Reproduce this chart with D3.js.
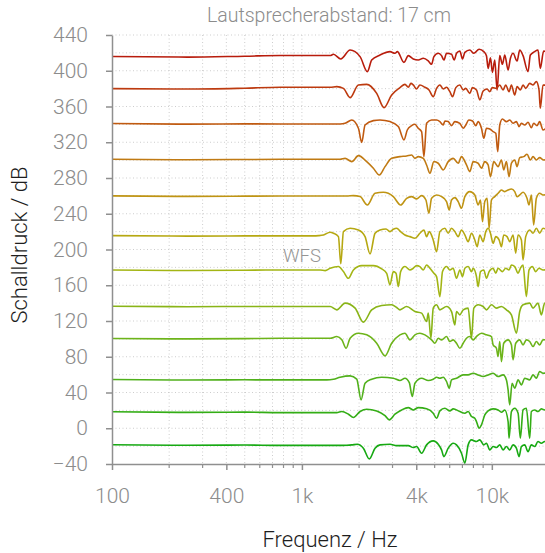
<!DOCTYPE html>
<html><head><meta charset="utf-8">
<script src="https://cdn.jsdelivr.net/npm/d3@7"></script>
<style>
body{margin:0;background:#fff;}
svg text{font-family:Roboto,"Open Sans",sans-serif;}
</style></head><body>
<svg id="c" width="545" height="553"></svg>
<script>
const title = "Lautsprecherabstand: 17 cm";
const xTitle = "Frequenz / Hz";
const yTitle = "Schalldruck / dB";
const annotation = "WFS";
const xTickValues = [100, 400, 1000, 4000, 10000];
const xTickLabels = ["100", "400", "1k", "4k", "10k"];
const xMinorTicks = [200, 300, 500, 600, 700, 800, 900, 2000, 3000, 5000, 6000, 7000, 8000, 9000, 20000];
const yTickValues = [-40, 0, 40, 80, 120, 160, 200, 240, 280, 320, 360, 400, 440];
const yGridValues = [-20, 0, 20, 40, 60, 80, 100, 120, 140, 160, 180, 200, 220, 240, 260, 280, 300, 320, 340, 360, 380, 400, 420, 440];
const colors = ["#b81c0c", "#bd3a0f", "#c05a10", "#c07a13", "#bf9413", "#b6a812", "#a3b514", "#89b417", "#6db41a", "#50b01b", "#33ad15", "#16a912"];

const s1 = [[100,416],[250,415.3],[500,416.3],[769,417],[1408,417],[1466,418.4],[1602,413.2],[1793,423.2],[2024,415.8],[2211,399],[2330,412],[2578,417.6],[2909,421.4],[3090,419.5],[3180,421.4],[3447,409.4],[3632,416.9],[3858,413.2],[4099,412],[4354,414],[4627,411],[4816,407.2],[4954,415.8],[5221,419.5],[5436,416.9],[5591,412],[5775,419.5],[6135,418.4],[6336,412],[6517,419.5],[6785,422.1],[7008,413.2],[7210,420.6],[7658,423.2],[8038,419.5],[8573,424],[9072,421.4],[9369,416.9],[9560,402.7],[9835,414.6],[10070,398.2],[10363,412],[10660,378.5],[11009,416.9],[11370,407.2],[11700,417.6],[12180,400.9],[12530,413.9],[12936,419.5],[13580,410.9],[14023,423.2],[14600,416.9],[15510,399],[15950,417.6],[16810,421.4],[17500,423.2],[18000,402.7],[18750,422.1],[20000,418]];
const s2 = [[100,380],[250,379.5],[500,380.5],[769,381.5],[1408,381.5],[1526,382.2],[1654,380.3],[1793,369.9],[1984,384.1],[2194,384.8],[2476,374.7],[2706,358.7],[2968,372.9],[3283,381.1],[3488,384.8],[3632,381.5],[3750,385.9],[3858,384.1],[4017,379.6],[4182,384.1],[4444,381.5],[4670,378.5],[4914,371],[5117,380.3],[5327,384.1],[5546,379.6],[5775,381.5],[6012,376.6],[6210,371],[6462,381.1],[6785,384.1],[7065,378.5],[7290,380.3],[7658,374.7],[7905,381.1],[8301,378.5],[8643,367.3],[8999,377.4],[9440,379.6],[9754,376.6],[10070,381.1],[10574,380.3],[11009,384.1],[11462,378.5],[11830,384.1],[12320,376.6],[12680,384.1],[13200,372.9],[13580,382.2],[14130,378.5],[14600,384.1],[15080,380.3],[15826,385.9],[16478,384.1],[17156,387.8],[17720,378.5],[18000,358],[18600,384.1],[20000,383]];
const s3 = [[100,341],[250,340.3],[500,340.6],[769,340.4],[1589,340.4],[1688,341.2],[1830,344.9],[1984,335.6],[2065,319.9],[2150,339.3],[2378,344.2],[2578,344.9],[2909,343.1],[3218,337.5],[3447,322.6],[3588,333.7],[3780,338.6],[3937,340.1],[4099,335.6],[4268,331.9],[4390,303.9],[4534,341.2],[4816,344.9],[5117,344.9],[5327,343.1],[5546,339.3],[5660,343.8],[5893,343.1],[6135,338.6],[6388,343.1],[6785,341.2],[7065,335.6],[7296,339.3],[7565,344.9],[7910,343.8],[8235,338.6],[8470,343.1],[8820,335.6],[9072,324.4],[9369,335.6],[9754,334.9],[10156,331.9],[10490,330],[10745,309.5],[11009,339.3],[11370,346],[11934,343.1],[12425,344.9],[12936,341.2],[13469,343.1],[13910,337.5],[14310,341.2],[14900,339.3],[15510,342.3],[16150,336.3],[16610,341.2],[17300,338.6],[17862,343.1],[18597,333.7],[20000,340]];
const s4 = [[100,301],[250,300.4],[500,300.7],[769,300.9],[1589,300.9],[1688,302],[1830,298.3],[1984,305],[2194,298.3],[2378,290.9],[2557,283.4],[2739,292.7],[2968,302],[3283,303.9],[3559,304.7],[3780,305.8],[3937,302],[4099,303.9],[4354,302],[4534,294.6],[4720,285.3],[4954,298.3],[5221,296.5],[5546,289],[5893,298.3],[6260,302],[6650,296.5],[6924,303.9],[7355,294.6],[7658,287.1],[7973,298.3],[8470,296.5],[8820,290.9],[9182,298.3],[9560,294.6],[9835,281.5],[10240,298.3],[10790,292.7],[11234,300.2],[11550,289],[11934,298.3],[12320,281.5],[12680,296.5],[13200,300.2],[13580,292.7],[14023,302.8],[14720,303.9],[15320,306.5],[15950,300.2],[16478,303.9],[17156,300.2],[17862,302.8],[18750,300.2],[20000,301]];
const s5 = [[100,260],[250,259.4],[500,259.7],[769,259.9],[1722,259.9],[1867,260.3],[2024,259.2],[2211,249.8],[2427,262.9],[2684,264],[3029,259.2],[3310,249.8],[3559,257.3],[3780,259.2],[4017,256.6],[4268,260.3],[4497,255.4],[4663,240.5],[4816,257.3],[5117,261],[5436,259.2],[5775,253.6],[5965,244.3],[6135,255.4],[6388,258],[6650,253.6],[6924,246.1],[7210,259.2],[7658,264.8],[8136,261],[8470,249.8],[8715,255.4],[8925,231.2],[9182,253.6],[9445,257.3],[9676,223.7],[9954,255.4],[10363,259.2],[10790,262.9],[11234,266.6],[11700,264.8],[12180,266.6],[12680,267.7],[13200,264.8],[13580,259.2],[14023,261],[14600,264],[15320,257.3],[15700,249.8],[16150,261],[16610,227.5],[17156,257.3],[17862,262.9],[18597,261],[20000,262]];
const s6 = [[100,215.5],[250,215],[500,215.2],[769,215.2],[1151,215.2],[1222,215.5],[1299,216.3],[1408,219.3],[1466,218.2],[1557,214.4],[1602,184],[1654,220],[1793,223.7],[1984,221.9],[2150,214.4],[2284,195],[2427,218.2],[2578,221.9],[2772,223],[2909,220],[3029,222.6],[3154,223.7],[3310,220],[3488,216.3],[3706,214.4],[3937,212.6],[4182,218.2],[4390,221.9],[4534,214.4],[4682,220],[4914,210.7],[5117,197.6],[5327,220],[5660,223.7],[5893,218.2],[6135,223.7],[6388,220],[6650,214.4],[6924,221.9],[7210,216.3],[7505,208.8],[7815,218.2],[8136,210.7],[8370,203.2],[8643,216.3],[8999,208.8],[9294,220],[9560,223.7],[9835,218.2],[10156,207],[10490,214.4],[10920,210.7],[11234,203.2],[11550,216.3],[12030,214.4],[12425,208.8],[12936,216.3],[13360,196],[13750,216.3],[14310,210.7],[14600,188.3],[15080,214.4],[15826,221.9],[16478,218.2],[17156,223.7],[17862,218.2],[18597,223.7],[20000,221]];
const s7 = [[100,177],[250,176.5],[500,176.8],[769,177.1],[1247,177.1],[1326,176.4],[1408,179],[1557,180.9],[1654,175.3],[1757,167.8],[1867,177.1],[2065,182],[2378,182],[2630,178.3],[2794,173.4],[2909,160.4],[3029,175.3],[3130,173.4],[3218,158.5],[3310,175.3],[3488,180.9],[3706,177.1],[3858,179],[4017,182],[4182,180.9],[4354,177.1],[4534,182.7],[4720,179],[4954,173.4],[5117,169.7],[5327,147.3],[5500,175.3],[5775,180.9],[6012,177.1],[6260,179],[6517,167.8],[6785,177.1],[7008,169.7],[7210,179],[7505,180.9],[7815,175.3],[7973,179],[8301,169.7],[8470,158.5],[8715,175.3],[9072,177.1],[9369,167.8],[9676,175.3],[10156,179],[10490,173.4],[10790,179],[11370,175.3],[11840,179],[12320,177.1],[12680,182.7],[13200,180.9],[13750,173.4],[14130,179],[14600,182.7],[15201,147.3],[15700,177.1],[16350,180.9],[17020,175.3],[17720,179],[18597,177.1],[20000,178]];
const s8 = [[100,136.5],[250,136],[500,136.3],[769,136.2],[1408,136.2],[1526,132.5],[1688,140],[1906,134.4],[2107,118.7],[2330,132.5],[2630,137.3],[2968,138.1],[3154,135.1],[3283,132.5],[3559,136.2],[3937,130.6],[4268,128.8],[4534,119.4],[4627,128.8],[4778,100.8],[4914,134.4],[5117,138.1],[5327,132.5],[5775,136.2],[6135,130.6],[6388,115.7],[6517,130.6],[6785,126.9],[7065,132.5],[7505,134.4],[7815,100.8],[8038,134.4],[8470,138.1],[8999,136.2],[9369,132.5],[9954,138.1],[10574,134.4],[11234,136.2],[11934,132.5],[12680,126.9],[13469,106.4],[14023,130.6],[14600,138.1],[15826,140],[16478,134.4],[17500,140],[18230,126.9],[18980,140],[20000,139]];
const s9 = [[100,100.5],[250,100],[500,100.3],[769,100.7],[1408,100.7],[1526,102.6],[1623,98.9],[1709,89.5],[1793,100.7],[1984,106.3],[2194,104.5],[2476,95.1],[2739,81],[2968,95.1],[3283,104.5],[3488,106.3],[3706,98.9],[3937,104.5],[4182,106.3],[4444,104.5],[4816,98.9],[5015,95.1],[5221,100.7],[5436,98.9],[5775,102.6],[6012,97],[6260,98.9],[6517,95.1],[6785,89.5],[7065,95.1],[7355,100.7],[7658,102.6],[7973,98.9],[8301,102.6],[8820,106.3],[9369,104.5],[9954,102.6],[10156,93.3],[10574,89.5],[10790,80.2],[11009,97],[11234,74.6],[11550,95.1],[12180,98.9],[12680,93.3],[12936,76.5],[13360,95.1],[14023,98.9],[14600,93.3],[15201,98.9],[15826,97],[16478,91.4],[17156,97],[17862,93.3],[18597,98.9],[20000,99]];
const s10 = [[100,54.5],[250,54],[500,54.2],[769,54.1],[1352,54.1],[1466,54.9],[1589,57.1],[1793,58.6],[1944,54.9],[2049,31.8],[2150,50.4],[2330,54.9],[2630,57.1],[3029,56],[3283,53.4],[3488,56],[3677,51.1],[3810,35.5],[3937,50.4],[4268,56],[4627,53.4],[4914,54.9],[5117,57.1],[5327,56],[5546,57.1],[5775,52.3],[5965,44.8],[6135,54.1],[6517,56],[7065,59.7],[7505,59.7],[7973,61.6],[8470,59.7],[8999,57.9],[9560,59.7],[10156,61.6],[10790,57.9],[11462,59.7],[11934,54.1],[12180,42.9],[12425,26.2],[12780,50.4],[13200,44.8],[13750,54.1],[14310,48.5],[14900,56],[15826,54.1],[16478,59.7],[17156,56],[17862,63.5],[18597,61.6],[20000,62]];
const s11 = [[100,18.5],[250,17.8],[500,18],[769,17.5],[1526,17.5],[1623,18.7],[1757,15.7],[1867,12],[2024,18.7],[2194,21.3],[2476,19.4],[2739,14.2],[2886,9.4],[3090,15.7],[3350,20.5],[3632,23.1],[3858,20.5],[4099,23.1],[4534,21.7],[4914,16.8],[5117,11.2],[5327,19.4],[5660,22.4],[6012,19.4],[6260,21.7],[6785,18.7],[7210,16.8],[7505,18.7],[7815,13.1],[8136,11.2],[8301,7.5],[8573,0],[8820,3.8],[9182,14.9],[9560,19.4],[10156,21.7],[10790,20.5],[11234,17.9],[11700,20.5],[12180,7.5],[12320,-11.2],[12680,18.7],[13200,22.4],[13750,16.8],[14130,-11.2],[14600,20.5],[15201,22.4],[15826,-11.2],[16150,18.7],[16810,20.5],[17500,18.7],[18230,21.7],[18980,20.5],[20000,21]];
const s12 = [[100,-18.5],[250,-19],[500,-18.8],[769,-19.2],[1589,-19.2],[1722,-19],[1830,-18.6],[1960,-17.9],[2107,-22.3],[2265,-34.3],[2427,-22.3],[2578,-18.6],[2909,-17.9],[3154,-19.4],[3632,-19.4],[3858,-21.6],[4017,-20.5],[4268,-27.9],[4534,-18.6],[4914,-14.1],[5221,-17.9],[5436,-24.2],[5591,-31.7],[5893,-22.3],[6260,-16.7],[6517,-18.6],[6924,-27.9],[7210,-39.1],[7505,-18.6],[7815,-13],[8301,-14.9],[8643,-13],[9072,-18.6],[9369,-16.7],[9754,-24.2],[10156,-20.5],[10574,-21.6],[11009,-18.6],[11462,-24.2],[11934,-20.5],[12425,-24.2],[12936,-18.6],[13469,-22.3],[13910,-31.7],[14310,-20.5],[14900,-18.6],[15510,-26.1],[16150,-18.6],[16810,-20.5],[17500,-14.9],[18230,-16.7],[18980,-14.9],[20000,-15]];
const series = [s1, s2, s3, s4, s5, s6, s7, s8, s9, s10, s11, s12];

const svg = d3.select("#c");
const x = d3.scaleLog().domain([100, 20000]).range([112, 549]);
const y = d3.scaleLinear().domain([-40, 440]).range([464, 35]);
const gridColor = "#cdcdcd";
const axisColor = "#8f8f8f";
const labelColor = "#8c8c8c";

// grid
svg.append("g").selectAll("line").data(yGridValues).join("line")
  .attr("x1", 112).attr("x2", 545).attr("y1", d => y(d)).attr("y2", d => y(d))
  .attr("stroke", gridColor).attr("stroke-width", 1).attr("stroke-dasharray", "1,2.5");
svg.append("g").selectAll("line").data(xMinorTicks.concat(xTickValues.slice(1))).join("line")
  .attr("x1", d => x(d)).attr("x2", d => x(d)).attr("y1", 35).attr("y2", 464)
  .attr("stroke", gridColor).attr("stroke-width", 1).attr("stroke-dasharray", "1,2.5");

// lines
const line = d3.line().x(d => x(d[0])).y(d => y(d[1])).curve(d3.curveMonotoneX);
svg.append("g").selectAll("path").data(series).join("path")
  .attr("d", line).attr("fill", "none")
  .attr("stroke", (d, i) => colors[i]).attr("stroke-width", 1.6).attr("stroke-linejoin", "round");

// y axis
const yAxis = d3.axisLeft(y).tickValues(yTickValues)
  .tickFormat(d => d < 0 ? "\u2212" + Math.abs(d) : String(d))
  .tickSize(6).tickSizeOuter(0).tickPadding(18);
const gy = svg.append("g").attr("transform", "translate(112,0)").call(yAxis);
gy.select(".domain").attr("stroke", axisColor).attr("stroke-width", 1.5);
gy.selectAll(".tick line").attr("stroke", axisColor).attr("stroke-width", 1.5);
gy.selectAll(".tick text").attr("fill", labelColor).attr("font-size", 21).attr("font-weight", 300)
  .attr("font-family", "Roboto, sans-serif");

// x axis
const xAxis = d3.axisBottom(x).tickValues(xTickValues)
  .tickFormat((d, i) => xTickLabels[i]).tickSize(6).tickSizeOuter(0).tickPadding(18);
const gx = svg.append("g").attr("transform", "translate(0,464)").call(xAxis);
gx.select(".domain").attr("stroke", axisColor).attr("stroke-width", 1.5);
gx.selectAll(".tick line").attr("stroke", axisColor).attr("stroke-width", 1.5);
gx.selectAll(".tick text").attr("fill", labelColor).attr("font-size", 21).attr("font-weight", 300)
  .attr("font-family", "Roboto, sans-serif");
svg.append("g").selectAll("line").data(xMinorTicks).join("line")
  .attr("x1", d => x(d)).attr("x2", d => x(d)).attr("y1", 464).attr("y2", 468)
  .attr("stroke", axisColor).attr("stroke-width", 1.2);

// texts
svg.append("text").attr("x", 329).attr("y", 17).attr("text-anchor", "middle")
  .attr("dominant-baseline", "middle").attr("fill", labelColor).attr("font-size", 19.5).attr("font-weight", 300)
  .text(title);
svg.append("text").attr("x", 330).attr("y", 541).attr("text-anchor", "middle")
  .attr("dominant-baseline", "middle").attr("fill", "#1e1e1e").attr("font-size", 22).attr("font-weight", 300)
  .text(xTitle);
svg.append("text").attr("transform", "translate(21,245) rotate(-90)").attr("text-anchor", "middle")
  .attr("dominant-baseline", "middle").attr("fill", "#1e1e1e").attr("font-size", 22).attr("font-weight", 300)
  .text(yTitle);
svg.append("text").attr("x", 302).attr("y", 257).attr("text-anchor", "middle")
  .attr("dominant-baseline", "middle").attr("fill", "#959595").attr("font-size", 18.5).attr("font-weight", 300)
  .text(annotation);
</script></body></html>
